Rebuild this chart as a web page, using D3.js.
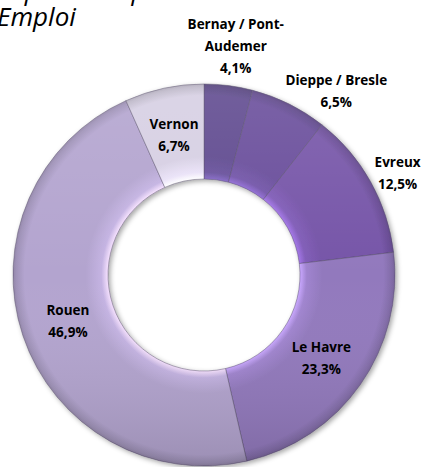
<!DOCTYPE html>
<html>
<head>
<meta charset="utf-8">
<script src="https://cdn.jsdelivr.net/npm/d3@7"></script>
<style>
  body { margin: 0; background: #fff; }
  text { font-family: "Open Sans", Lato, sans-serif; }
</style>
</head>
<body>
<div id="chart"></div>
<script>

//********************* DATA ************************************

var zones = ["Bernay / Pont-Audemer", "Dieppe / Bresle", "Evreux", "Le Havre", "Rouen", "Vernon"];
var labelLines = [["Bernay / Pont-", "Audemer"], ["Dieppe / Bresle"], ["Evreux"], ["Le Havre"], ["Rouen"], ["Vernon"]];
var shares = [4.1, 6.5, 12.5, 23.3, 46.9, 6.7];
var titleLines = ["Répartition par zone d'", "Emploi"];

//********************* DIMENSIONS ************************************

var width = 436,
    height = 467,
    cx = 204,
    cy = 275,
    outerR = 191,
    innerR = 96;

var colour = d3.scaleOrdinal()
    .domain(zones)
    .range(["#5f4a8f", "#694e9b", "#7655a8", "#9279bd", "#b3a4cf", "#d6cfe3"]);

// labels of the small top slices go outside the ring
var outsideZones = ["Bernay / Pont-Audemer", "Dieppe / Bresle", "Evreux"];

var svg = d3.select("#chart").append("svg")
    .attr("width", width)
    .attr("height", height);

var defs = svg.append("defs");

var shadow = defs.append("filter").attr("id", "shadow")
    .attr("x", "-10%").attr("y", "-10%").attr("width", "120%").attr("height", "120%");
shadow.append("feDropShadow")
    .attr("dx", 2).attr("dy", 2).attr("stdDeviation", 2.5)
    .attr("flood-color", "#000").attr("flood-opacity", 0.35);

//********************* DONUT ************************************

var pie = d3.pie().sort(null).value(function(d) { return d.value; });
var arc = d3.arc().innerRadius(innerR).outerRadius(outerR);

var data = zones.map(function(z, i) {
  return { zone: z, value: shares[i], lines: labelLines[i].concat([d3.format(".1f")(shares[i]).replace(".", ",") + "%"]) };
});
var arcs = pie(data);

// bevel gradient per slice
arcs.forEach(function(d, i) {
  var base = d3.color(colour(d.data.zone));
  var g = defs.append("radialGradient").attr("id", "bevel" + i)
      .attr("gradientUnits", "userSpaceOnUse")
      .attr("cx", 0).attr("cy", 0).attr("r", outerR);
  var stops = [
    [innerR / outerR, base.brighter(0.9)],
    [innerR / outerR + 0.035, base.brighter(0.25)],
    [0.62, base],
    [0.94, base],
    [0.985, base.darker(0.35)],
    [1, base.darker(0.6)]
  ];
  stops.forEach(function(s) {
    g.append("stop").attr("offset", s[0]).attr("stop-color", s[1].formatHex());
  });
});

var shade = defs.append("linearGradient").attr("id", "shade")
    .attr("gradientUnits", "userSpaceOnUse")
    .attr("x1", 0).attr("y1", -outerR).attr("x2", 0).attr("y2", outerR);
shade.append("stop").attr("offset", 0).attr("stop-color", "#fff").attr("stop-opacity", 0.12);
shade.append("stop").attr("offset", 0.5).attr("stop-color", "#fff").attr("stop-opacity", 0);
shade.append("stop").attr("offset", 1).attr("stop-color", "#000").attr("stop-opacity", 0.13);

var g = svg.append("g")
    .attr("transform", "translate(" + cx + "," + cy + ")");

g.append("g").attr("filter", "url(#shadow)")
  .selectAll("path")
  .data(arcs)
  .enter().append("path")
    .attr("d", arc)
    .attr("fill", function(d, i) { return "url(#bevel" + i + ")"; })
    .attr("stroke", "#4f4763")
    .attr("stroke-opacity", 0.45)
    .attr("stroke-width", 1);

g.append("g")
  .selectAll("path")
  .data(arcs)
  .enter().append("path")
    .attr("d", arc)
    .attr("fill", "url(#shade)")
    .attr("pointer-events", "none");

//********************* LABELS ************************************

var lineH = 22;

var labels = g.append("g")
  .selectAll("text")
  .data(arcs)
  .enter().append("text")
    .attr("text-anchor", "middle")
    .attr("font-weight", "bold")
    .attr("font-size", "13.5px")
    .attr("fill", "#000");

labels.selectAll("tspan")
  .data(function(d) { return d.data.lines; })
  .enter().append("tspan")
    .attr("x", 0)
    .attr("dy", function(l, j) { return j === 0 ? 0 : lineH; })
    .text(function(l) { return l; });

function outsidePos(a, w, h) {
  var r = outerR + 8;
  return [Math.sin(a) * (r + w / 2), -Math.cos(a) * r - Math.cos(a) * Math.abs(Math.cos(a)) * h / 2];
}

function boxAt(p, w, h) {
  return { x0: p[0] - w / 2, x1: p[0] + w / 2, y0: p[1] - h / 2, y1: p[1] + h / 2 };
}

function overlaps(a, b) {
  return a.x0 < b.x1 && b.x0 < a.x1 && a.y0 < b.y1 && b.y0 < a.y1;
}

var prevBox = null;
labels.each(function(d) {
  var n = d.data.lines.length,
      h = n * lineH,
      w = this.getBBox().width,
      p;
  if (outsideZones.indexOf(d.data.zone) >= 0) {
    var a = (d.startAngle + d.endAngle) / 2;
    p = outsidePos(a, w, h);
    // push the label clockwise until it clears the previous one
    while (prevBox && overlaps(boxAt(p, w, h - 8), prevBox)) {
      a += Math.PI / 360;
      p = outsidePos(a, w, h);
    }
    prevBox = boxAt(p, w, h - 8);
  } else {
    p = arc.centroid(d);
  }
  d3.select(this).attr("transform",
      "translate(" + p[0] + "," + (p[1] - h / 2 + lineH * 0.75) + ")");
});

//********************* TITLE ************************************

svg.append("g").selectAll("text")
  .data(titleLines)
  .enter().append("text")
    .attr("x", -3)
    .attr("y", function(t, i) { return 0 + i * 26; })
    .attr("font-family", "Lato, sans-serif")
    .attr("font-style", "italic")
    .attr("font-size", "26px")
    .attr("fill", "#000")
    .text(function(t) { return t; });

</script>
</body>
</html>
